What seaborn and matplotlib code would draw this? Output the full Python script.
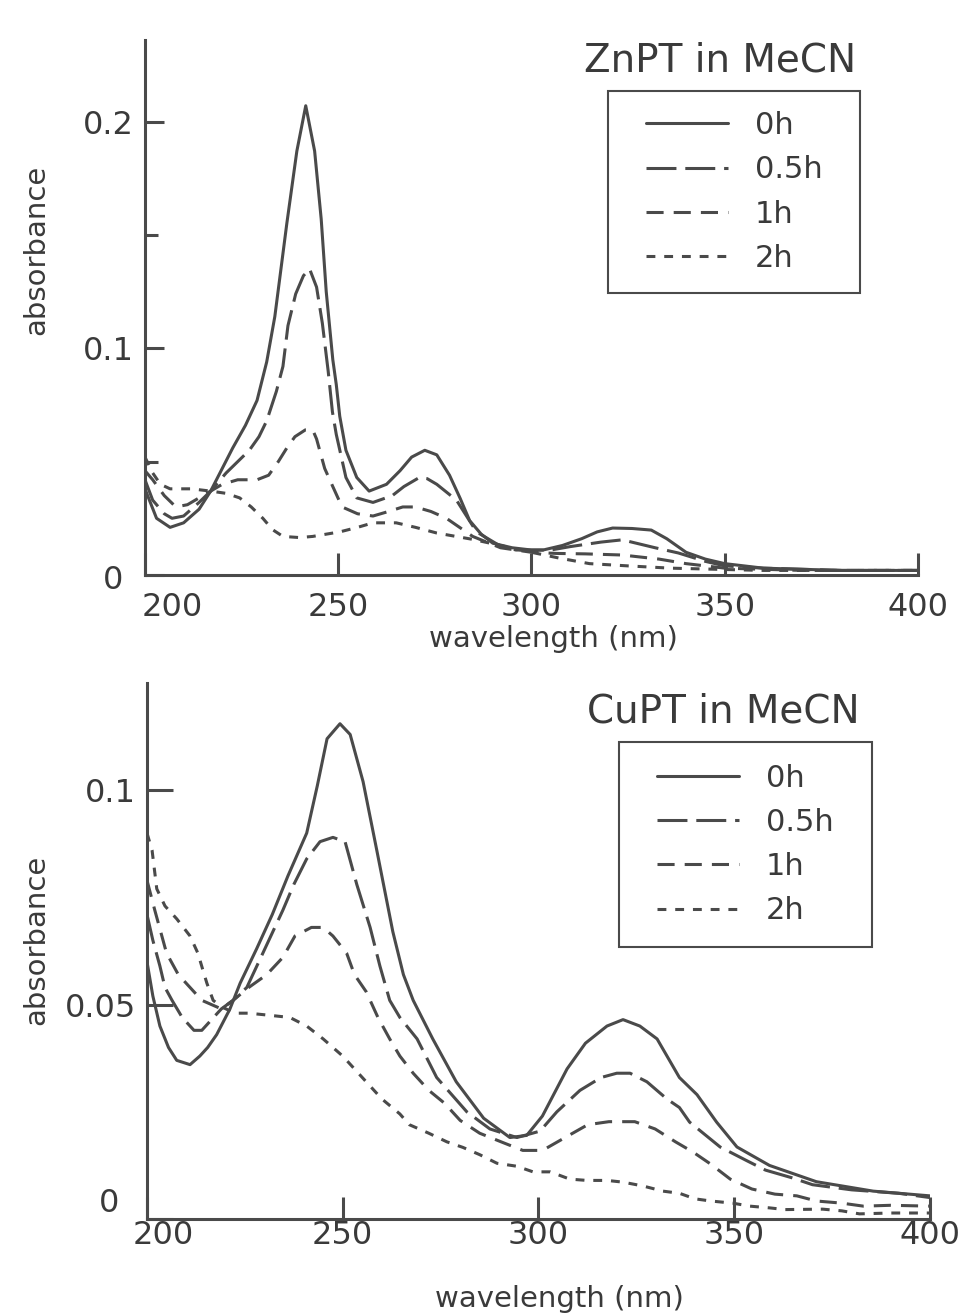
import numpy as np
import pandas as pd
import matplotlib
matplotlib.use("Agg")
import matplotlib.pyplot as plt
import seaborn as sns
from matplotlib.patches import Rectangle
from matplotlib.transforms import ScaledTranslation

# ---------------- data ----------------
zn_0h_wl = [200, 203, 206.5, 210, 214, 217, 220, 222.7, 226, 229, 231.5, 233.6, 236.7, 239.3, 241.6,
            243.9, 245.6, 246.9, 248.6, 249.5, 250.4, 252, 254.8, 258, 262.5, 266, 269, 272.4, 275.5,
            278.8, 281.5, 284, 287, 290, 295, 300, 303, 308, 313, 317, 321, 326, 331, 335, 340, 345,
            350, 355, 360, 370, 380, 390, 400]
zn_0h = [0.038, 0.025, 0.021, 0.023, 0.029, 0.037, 0.047, 0.056, 0.066, 0.077, 0.094, 0.114, 0.155, 0.187, 0.207,
         0.187, 0.157, 0.125, 0.095, 0.084, 0.070, 0.055, 0.043, 0.037, 0.040, 0.046, 0.052, 0.055, 0.053,
         0.044, 0.034, 0.024, 0.018, 0.014, 0.012, 0.011, 0.011, 0.013, 0.016, 0.019, 0.0207, 0.0205, 0.0198, 0.016,
         0.010, 0.007, 0.005, 0.004, 0.003, 0.0025, 0.002, 0.002, 0.002]

zn_05h_wl = [200, 202, 205, 207, 210, 214, 217, 221, 224, 227, 229.5, 231.5, 234, 235.7, 237, 239, 241, 242.6,
             244.4, 245.9, 247.4, 248.5, 249.5, 252, 254.8, 259, 264, 267, 271, 273, 275.5, 280.6, 285.8,
             291.7, 296, 300, 305, 310, 318, 323.5, 332, 338, 345, 350, 360, 380, 400]
zn_05h = [0.042, 0.033, 0.027, 0.025, 0.026, 0.032, 0.037, 0.045, 0.050, 0.055, 0.061, 0.068, 0.081, 0.092, 0.110,
          0.124, 0.132, 0.135, 0.127, 0.111, 0.090, 0.072, 0.062, 0.043, 0.034, 0.032, 0.035, 0.039, 0.043, 0.0425,
          0.040, 0.033, 0.019, 0.013, 0.011, 0.011, 0.011, 0.0125, 0.0145, 0.0155, 0.012, 0.0097, 0.006, 0.004,
          0.003, 0.002, 0.002]

zn_1h_wl = [200, 202, 205, 208, 211, 214, 217, 220, 224, 229, 232, 234.5, 236.7, 238.8, 241.5, 243.4, 244.4,
            246.5, 248.6, 251, 255, 259, 263, 266.7, 270, 274, 278, 284.8, 292, 300, 306.5, 314, 323.5, 333,
            340, 350, 370, 400]
zn_1h = [0.046, 0.042, 0.035, 0.030, 0.031, 0.034, 0.037, 0.040, 0.042, 0.042, 0.044, 0.050, 0.056, 0.061, 0.064,
         0.064, 0.060, 0.047, 0.039, 0.030, 0.027, 0.026, 0.028, 0.030, 0.030, 0.028, 0.025, 0.017, 0.012, 0.010,
         0.0095, 0.0093, 0.0088, 0.007, 0.005, 0.003, 0.002, 0.002]

zn_2h_wl = [200, 202, 204, 206.5, 212, 217, 221, 224.5, 227.5, 230.5, 233, 235.7, 240, 243.4, 250.4, 255, 259,
            265, 270, 275.5, 284.8, 292, 300, 307, 315, 325, 336, 360, 400]
zn_2h = [0.052, 0.045, 0.040, 0.038, 0.038, 0.037, 0.036, 0.034, 0.030, 0.025, 0.020, 0.017, 0.0165, 0.017, 0.019,
         0.021, 0.023, 0.023, 0.021, 0.0185, 0.0157, 0.013, 0.010, 0.0075, 0.005, 0.004, 0.003, 0.002, 0.002]

cu_0h_wl = [200, 201.5, 203.3, 205.5, 207.6, 211, 213.5, 215.5, 217.8, 221.2, 223.8, 228, 232, 236, 240.8, 243.5,
            246, 249.3, 251.9, 255.2, 258.7, 262.8, 265.5, 268, 273, 279, 286, 292.7, 297, 301, 307.3, 312,
            317.5, 321.6, 325.9, 330.3, 336, 340.5, 345.5, 350.7, 359, 371, 385.5, 400]
cu_0h = [0.060, 0.052, 0.045, 0.040, 0.037, 0.036, 0.038, 0.040, 0.043, 0.049, 0.055, 0.063, 0.071, 0.080, 0.090,
         0.101, 0.112, 0.1155, 0.113, 0.102, 0.086, 0.067, 0.057, 0.051, 0.042, 0.032, 0.0235, 0.019, 0.0195, 0.024,
         0.035, 0.041, 0.045, 0.0465, 0.045, 0.042, 0.033, 0.029, 0.0226, 0.0168, 0.0125, 0.0087, 0.0065, 0.0054]

cu_05h_wl = [200, 201.5, 203.3, 204.6, 206.4, 209, 212, 214, 216, 219, 222, 225.5, 229.6, 234.7, 237.5, 240.8,
             244.2, 247.5, 250.6, 253.6, 257, 259.5, 262, 264.6, 269, 274, 281.7, 287.6, 294.5, 300.4, 304.7,
             310.6, 316, 320, 323.4, 327.7, 332.8, 336, 338.6, 346.4, 353, 358, 364.8, 370, 380, 392, 400]
cu_05h = [0.071, 0.065, 0.059, 0.054, 0.051, 0.047, 0.044, 0.044, 0.046, 0.049, 0.051, 0.054, 0.062, 0.072, 0.078,
          0.084, 0.088, 0.089, 0.088, 0.078, 0.068, 0.059, 0.051, 0.047, 0.042, 0.033, 0.025, 0.021, 0.019, 0.0205,
          0.025, 0.030, 0.033, 0.034, 0.034, 0.032, 0.028, 0.026, 0.0226, 0.0168, 0.0137, 0.0114, 0.0096, 0.008,
          0.0068, 0.006, 0.005]

cu_1h_wl = [200, 202, 205, 208, 211, 214, 219, 222, 226, 230.6, 234.7, 237.8, 242, 245, 247.5, 251, 253, 256,
            259, 262, 264.6, 268, 272, 276, 280, 285, 291, 296, 300, 302, 306.8, 312.6, 318, 324.6, 329.8, 335,
            339.5, 344, 349, 354.5, 360.4, 366, 371, 377.5, 383, 390, 400]
cu_1h = [0.079, 0.072, 0.062, 0.057, 0.054, 0.051, 0.049, 0.051, 0.054, 0.057, 0.061, 0.066, 0.068, 0.068, 0.066,
         0.062, 0.057, 0.053, 0.047, 0.042, 0.038, 0.034, 0.030, 0.027, 0.023, 0.020, 0.0178, 0.016, 0.016, 0.0165,
         0.019, 0.022, 0.0227, 0.0227, 0.021, 0.018, 0.0156, 0.0128, 0.0093, 0.007, 0.0058, 0.0054, 0.0042, 0.0037,
         0.003, 0.0032, 0.003]

cu_2h_wl = [200, 201.3, 202.5, 204.6, 207.6, 211, 213, 214.3, 215.3, 216.9, 219, 222.5, 226, 231.4, 236.5, 240.8,
            245, 250, 255, 260, 264.6, 267, 272, 276.6, 280.7, 285, 289.4, 294.5, 298.6, 303, 308, 312.4, 317.5,
            321.6, 326.7, 331.8, 336, 340, 344, 349.6, 354, 359, 363, 372.6, 377.5, 382, 390, 400]
cu_2h = [0.090, 0.086, 0.077, 0.073, 0.070, 0.066, 0.062, 0.058, 0.055, 0.051, 0.0495, 0.048, 0.048, 0.0475, 0.047,
         0.045, 0.042, 0.038, 0.033, 0.028, 0.0245, 0.022, 0.020, 0.018, 0.0167, 0.015, 0.013, 0.0123, 0.011, 0.011,
         0.0093, 0.009, 0.009, 0.0086, 0.0077, 0.0065, 0.006, 0.0047, 0.0042, 0.0037, 0.003, 0.0026, 0.0022,
         0.0023, 0.0019, 0.0012, 0.0014, 0.0014]

series_labels = ["0h", "0.5h", "1h", "2h"]

# ---------------- style ----------------
sns.set_theme(style="white")
plt.rcParams["font.family"] = ["DejaVu Sans"]
INK = "#4a4a4a"
TXT = "#3a3a3a"
LW = 2.2
line_styles = ["-", (0, (9.8, 2.9)), (0, (5.6, 3.3)), (0, (2.9, 2.9))]

fig = plt.figure(figsize=(9.6, 13.16), dpi=100)
ax_top = fig.add_axes([0.1510, 0.5631, 0.8052, 0.4065])
ax_bot = fig.add_axes([0.1531, 0.0737, 0.8156, 0.4073])


def draw_panel(ax, wls, vals):
    for wl, v, lab, ls in zip(wls, vals, series_labels, line_styles):
        d = pd.DataFrame({"wavelength": wl, "absorbance": v})
        sns.lineplot(data=d, x="wavelength", y="absorbance", ax=ax, color=INK, lw=LW,
                     linestyle=ls, label=lab, sort=False, estimator=None, legend=False)
    for side in ["top", "right"]:
        ax.spines[side].set_visible(False)
    for side in ["left", "bottom"]:
        ax.spines[side].set_color(INK)
        ax.spines[side].set_linewidth(2.2)
    ax.set_xlim(200, 400)
    ax.set_xticks([200, 250, 300, 350, 400])
    ax.set_xticklabels(["200", "250", "300", "350", "400"])
    ax.tick_params(which="both", bottom=True, left=True)


def shift(lbl, dx, dy):
    lbl.set_transform(lbl.get_transform() + ScaledTranslation(dx / 100, dy / 100, fig.dpi_scale_trans))


# ---------- top panel: ZnPT ----------
draw_panel(ax_top, [zn_0h_wl, zn_05h_wl, zn_1h_wl, zn_2h_wl], [zn_0h, zn_05h, zn_1h, zn_2h])
ax_top.set_ylim(0, 0.236)
ax_top.set_yticks([0, 0.1, 0.2])
ax_top.set_yticklabels(["0", "0.1", "0.2"])
ax_top.set_yticks([0.05, 0.15], minor=True)
ax_top.tick_params(axis="y", which="major", direction="in", length=14, width=2.2, color=INK,
                   labelsize=23, labelcolor=TXT, pad=8)
ax_top.tick_params(axis="y", which="minor", direction="in", length=9, width=2.2, color=INK)
ax_top.tick_params(axis="x", which="major", direction="in", length=16, width=2.2, color=INK,
                   labelsize=23, labelcolor=TXT, pad=12)
ax_top.set_xlabel("wavelength (nm)", fontsize=21, color=TXT)
ax_top.set_ylabel("absorbance", fontsize=21, color=TXT)
ax_top.xaxis.set_label_coords(0.528, -0.093)
ax_top.yaxis.set_label_coords(-0.123, 0.607)
shift(ax_top.xaxis.get_major_ticks()[0].label1, 27, 0)
shift(ax_top.yaxis.get_major_ticks()[0].label1, -11, -2)

# ---------- bottom panel: CuPT ----------
draw_panel(ax_bot, [cu_0h_wl, cu_05h_wl, cu_1h_wl, cu_2h_wl], [cu_0h, cu_05h, cu_1h, cu_2h])
ax_bot.set_ylim(0, 0.125)
ax_bot.set_yticks([0, 0.05, 0.1])
ax_bot.set_yticklabels(["0", "0.05", "0.1"])
ax_bot.tick_params(axis="y", which="major", direction="in", length=19, width=2.2, color=INK,
                   labelsize=23, labelcolor=TXT, pad=8)
ax_bot.tick_params(axis="x", which="major", direction="in", length=16, width=2.2, color=INK,
                   labelsize=23, labelcolor=TXT, pad=1)
ax_bot.set_xlabel("wavelength (nm)", fontsize=21, color=TXT)
ax_bot.set_ylabel("absorbance", fontsize=21, color=TXT)
ax_bot.xaxis.set_label_coords(0.527, -0.123)
ax_bot.yaxis.set_label_coords(-0.124, 0.52)
shift(ax_bot.xaxis.get_major_ticks()[0].label1, 16, 0)
shift(ax_bot.yaxis.get_major_ticks()[0].label1, -17, 19)

# ---------- titles and boxed legends ----------
fig.text(0.75, 0.9544, "ZnPT in MeCN", fontsize=28, color=TXT, ha="center", va="center")
fig.text(0.753, 0.4597, "CuPT in MeCN", fontsize=28, color=TXT, ha="center", va="center")

for ax, box, centre in [(ax_top, (0.6333, 0.7774, 0.2625, 0.1535), (0.7646, 0.8541)),
                        (ax_bot, (0.6448, 0.2804, 0.2635, 0.1558), (0.7766, 0.3583))]:
    handles, labels = ax.get_legend_handles_labels()
    leg = ax.legend(handles, labels, loc="center", bbox_to_anchor=centre, bbox_transform=fig.transFigure,
                    frameon=False, fontsize=22, handlelength=2.68, handletextpad=0.88,
                    labelspacing=0.5, borderpad=0)
    for t in leg.get_texts():
        t.set_color(TXT)
    fig.add_artist(Rectangle(box[:2], box[2], box[3], transform=fig.transFigure,
                             fill=False, edgecolor=INK, lw=1.5))

plt.savefig("out.png", dpi=100)
plt.close()
